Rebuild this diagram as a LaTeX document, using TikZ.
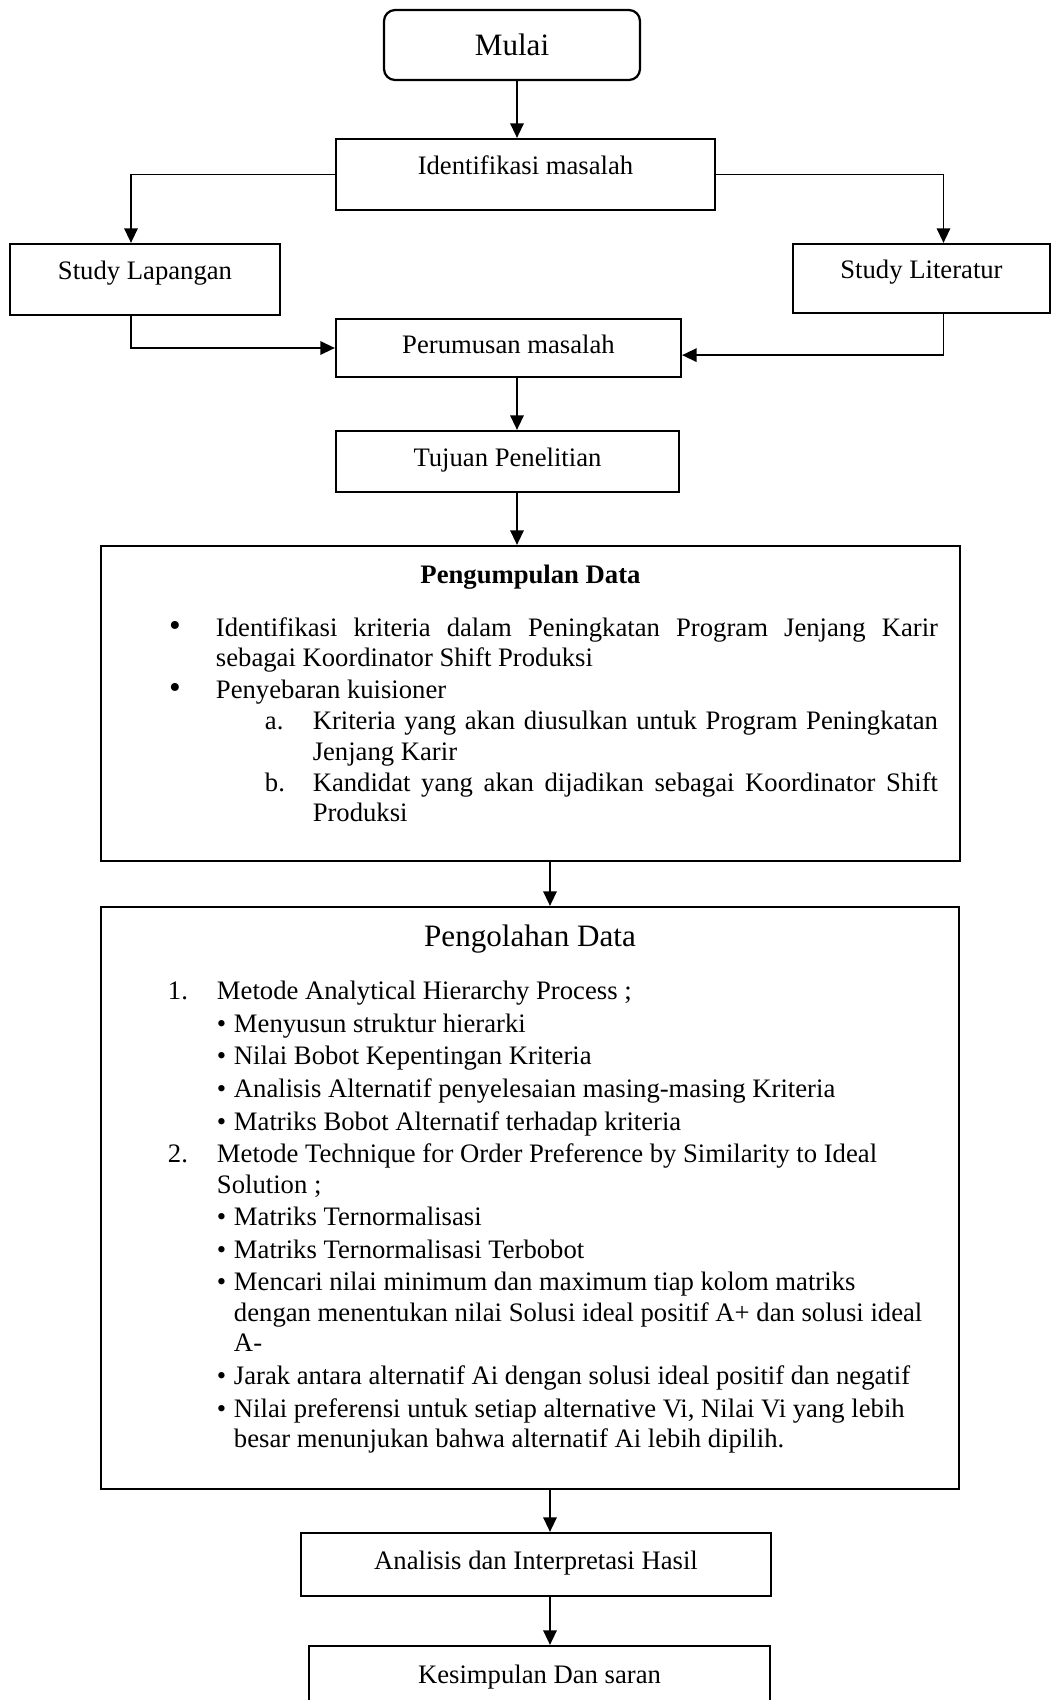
\documentclass[tikz,border=0pt]{standalone}
\usepackage{fontspec}
\setmainfont{Liberation Serif}
\usetikzlibrary{arrows.meta}
% list line: label, text start, label box width
\newcommand{\itm}[3]{\par\leftskip=#2\relax\noindent\llap{\makebox[#3][l]{#1}}}
\newcommand{\bigbul}{{\fontsize{15}{15}\selectfont\textbullet}}

\begin{document}
\begin{tikzpicture}[x=0.45pt, y=-0.45pt, line width=0.8pt,
    >={Triangle[length=6.5pt,width=6pt]},
    startbox/.style={draw, line width=1pt, rounded corners=5pt, inner sep=0pt,
      font=\fontsize{14}{16}\selectfont},
    flowbox/.style={draw, line width=1pt, inner sep=0pt, text height=9pt,
      text depth=4.5pt, font=\fontsize{12}{14}\selectfont},
    topbox/.style={flowbox, text depth=8.6pt},
    bigbox/.style={draw, line width=1pt, inner sep=0pt}]
  \useasboundingbox (0, 0) rectangle (1052, 1700);
  \coordinate (SP) at (517, 0);
  \coordinate (SQ) at (550, 0);
  \node [startbox, minimum width=115.2pt, minimum height=31.5pt] (MU) at (512, 45) {Mulai};
  \node [topbox, minimum width=170.55pt, minimum height=31.95pt] (ID) at (525.5, 174.5) {Identifikasi masalah};
  \node [topbox, minimum width=121.5pt, minimum height=31.95pt] (SL) at (145, 279.5) {Study Lapangan};
  \node [topbox, minimum width=115.65pt, minimum height=31.05pt] (ST) at (921.5, 278.5) {Study Literatur};
  \node [flowbox, minimum width=155.25pt, minimum height=26.1pt] (PM) at (508.5, 348) {Perumusan masalah};
  \node [flowbox, minimum width=154.35pt, minimum height=27.45pt] (TP) at (507.5, 461.5) {Tujuan Penelitian};
  \node [bigbox, minimum width=386.55pt, minimum height=141.75pt] (PD) at (530.5, 703.5) {%
    \parbox[c][141.75pt][t]{386.55pt}{%
      \fontsize{12}{13.6}\selectfont\parskip=0.6pt\tolerance=10000\rightskip=9.9pt
      \vspace*{6.7pt}
      {\centering\bfseries\strut Pengumpulan Data\par}
      \vspace{9.7pt}
      \itm{\bigbul}{51.75pt}{21.1pt}Identifikasi kriteria dalam Peningkatan Program Jenjang Karir\linebreak sebagai Koordinator Shift Produksi
      \itm{\bigbul}{51.75pt}{21.1pt}Penyebaran kuisioner
      \itm{a.}{95.3pt}{21.5pt}Kriteria yang akan diusulkan untuk Program Peningkatan\linebreak Jenjang Karir
      \itm{b.}{95.3pt}{21.5pt}Kandidat yang akan dijadikan sebagai Koordinator Shift\linebreak Produksi\par}};
  \node [bigbox, minimum width=386.1pt, minimum height=261.9pt] (OD) at (530, 1198) {%
    \parbox[c][261.9pt][t]{386.1pt}{%
      \fontsize{12}{13.75}\selectfont\parskip=0.9pt\rightskip=0pt plus 1fil
      \vspace*{5.6pt}
      {\centering\fontsize{14}{16}\selectfont\strut Pengolahan Data\par}
      \vspace{9.4pt}
      \itm{1.}{52.2pt}{22.05pt}Metode Analytical Hierarchy Process ;
      \itm{\textbullet}{59.85pt}{7.75pt}Menyusun struktur hierarki
      \itm{\textbullet}{59.85pt}{7.75pt}Nilai Bobot Kepentingan Kriteria
      \itm{\textbullet}{59.85pt}{7.75pt}Analisis Alternatif penyelesaian masing-masing Kriteria
      \itm{\textbullet}{59.85pt}{7.75pt}Matriks Bobot Alternatif terhadap kriteria
      \itm{2.}{52.2pt}{22.05pt}Metode Technique for Order Preference by Similarity to Ideal\newline Solution ;
      \itm{\textbullet}{59.85pt}{7.75pt}Matriks Ternormalisasi
      \itm{\textbullet}{59.85pt}{7.75pt}Matriks Ternormalisasi Terbobot
      \itm{\textbullet}{59.85pt}{7.75pt}Mencari nilai minimum dan maximum tiap kolom matriks\newline dengan menentukan nilai Solusi ideal positif A+ dan solusi ideal\newline A-
      \itm{\textbullet}{59.85pt}{7.75pt}Jarak antara alternatif Ai dengan solusi ideal positif dan negatif
      \itm{\textbullet}{59.85pt}{7.75pt}Nilai preferensi untuk setiap alternative Vi, Nilai Vi yang lebih\newline besar menunjukan bahwa alternatif Ai lebih dipilih.\par}};
  \node [flowbox, minimum width=211.5pt, minimum height=28.35pt] (AH) at (536, 1564.5) {Analisis dan Interpretasi Hasil};
  \node [flowbox, minimum width=207.45pt, minimum height=28.8pt] (KS) at (539.5, 1678) {Kesimpulan Dan saran};
  \draw [->] (MU.south -| SP) -- (ID.north -| SP);
  \draw [->] (ID.west) -| ([xshift=-6.3pt]SL.north);
  \draw [->] (ID.east) -| ([xshift=9.9pt]ST.north);
  \draw [->] ([xshift=-6.3pt]SL.south) |- (PM.west);
  \draw [->] ([xshift=9.9pt]ST.south) |- ([yshift=-3.2pt]PM.east);
  \draw [->] (PM.south -| SP) -- (TP.north -| SP);
  \draw [->] (TP.south -| SP) -- (PD.north -| SP);
  \draw [->] (PD.south -| SQ) -- (OD.north -| SQ);
  \draw [->] (OD.south -| SQ) -- (AH.north -| SQ);
  \draw [->] (AH.south -| SQ) -- (KS.north -| SQ);
\end{tikzpicture}
\end{document}
